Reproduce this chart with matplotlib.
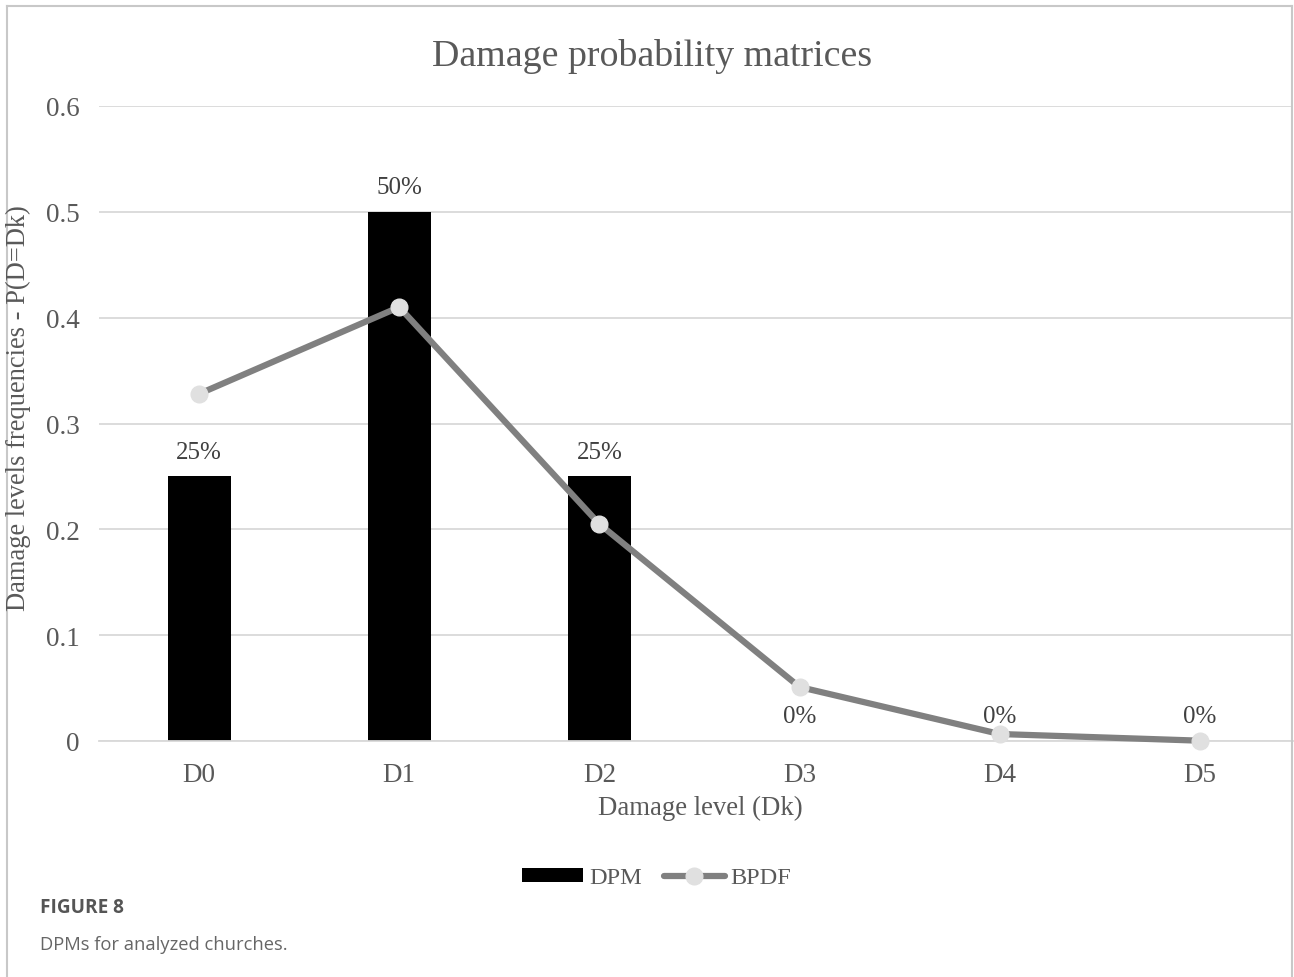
import matplotlib
matplotlib.use("Agg")
import matplotlib.pyplot as plt
from matplotlib.lines import Line2D
import numpy as np

categories = ["D0", "D1", "D2", "D3", "D4", "D5"]
dpm = [0.25, 0.50, 0.25, 0.0, 0.0, 0.0]
bpdf = [0.328, 0.410, 0.205, 0.051, 0.0066, 0.0003]
dpm_labels = ["25%", "50%", "25%", "0%", "0%", "0%"]
yticks = [0, 0.1, 0.2, 0.3, 0.4, 0.5, 0.6]
ytick_labels = ["0", "0.1", "0.2", "0.3", "0.4", "0.5", "0.6"]

W, H = 1294, 978
fig = plt.figure(figsize=(W / 100, H / 100), dpi=100)
serif = "Liberation Serif"
txt = "#595959"

ax = fig.add_axes([99 / W, 1 - 742 / H, (1293 - 99) / W, (742 - 107) / H])
x = np.arange(len(categories))
bars = ax.bar(x, dpm, width=0.315, color="black", zorder=2, label="DPM")
line, = ax.plot(x, bpdf, color="#808080", lw=4.5, marker="o", markersize=12,
                markerfacecolor="#e0e0e0", markeredgecolor="#e0e0e0", zorder=3,
                label="BPDF", solid_capstyle="round", clip_on=False)
for xi, v, lab in zip(x, dpm, dpm_labels):
    ax.annotate(lab, (xi, v), xytext=(0, 10), textcoords="offset points",
                ha="center", va="bottom", fontsize=18, color="#404040",
                family=serif)

ax.set_xlim(-0.5, 5.465)
ax.set_ylim(0, 0.6)
ax.set_yticks(yticks)
ax.set_yticklabels(ytick_labels)
ax.set_xticks(x)
ax.set_xticklabels(categories)
ax.yaxis.grid(True, color="#d9d9d9", lw=1.3, zorder=0)
ax.set_axisbelow(True)
for s in ["top", "right", "left"]:
    ax.spines[s].set_visible(False)
ax.spines["bottom"].set_color("#d9d9d9")
ax.spines["bottom"].set_linewidth(1.3)
ax.tick_params(axis="both", length=0, labelsize=19.5, colors=txt, pad=14)
ax.tick_params(axis="x", pad=15)
for lab in ax.get_xticklabels() + ax.get_yticklabels():
    lab.set_family(serif)

fig.text(652 / W, 1 - 56 / H, "Damage probability matrices", ha="center",
         va="center", fontsize=27.3, color=txt, family=serif)
fig.text(700 / W, 1 - 808 / H, "Damage level (Dk)", ha="center",
         va="center", fontsize=19.3, color=txt, family=serif)
fig.text(18 / W, 1 - 408 / H, "Damage levels frequencies - P(D=Dk)",
         ha="center", va="center", rotation=90, fontsize=19.1, color=txt,
         family=serif)

leg = fig.legend([bars, line], ["DPM", "BPDF"], loc="center",
                 bbox_to_anchor=(657 / W, 1 - 879 / H),
                 ncol=2, frameon=False, prop={"family": serif, "size": 17.5},
                 handlelength=2.5, handleheight=0.5, columnspacing=0.9,
                 handletextpad=0.25)
for t in leg.get_texts():
    t.set_color(txt)

fig.text(40 / W, 1 - 908 / H, "FIGURE 8", ha="left", va="center",
         fontsize=13.7, color="#555555", family="Open Sans", weight="bold")
fig.text(40 / W, 1 - 945 / H, "DPMs for analyzed churches.", ha="left",
         va="center", fontsize=13.2, color="#666666", family="Open Sans")

border = "#c8c8c8"
fig.add_artist(Line2D([7 / W, 7 / W], [0, 1 - 7 / H], color=border, lw=1.5))
fig.add_artist(Line2D([1292 / W, 1292 / W], [0, 1 - 7 / H], color=border, lw=1.5))
fig.add_artist(Line2D([7 / W, 1292 / W], [1 - 7 / H, 1 - 7 / H], color=border, lw=1.5))

fig.savefig("out.png", dpi=100)
